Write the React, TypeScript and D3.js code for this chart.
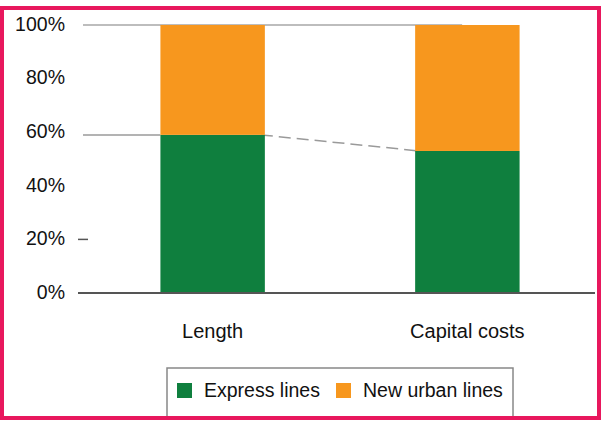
import React from "react";
import * as d3 from "d3";

const categories = ["Length", "Capital costs"];
const expressLines = [59, 53];
const newUrbanLines = [41, 47];
const yTicks = [0, 20, 40, 60, 80, 100];
const seriesNames = ["Express lines", "New urban lines"];
const colors = ["#0f7f3e", "#f7971e"];

export default function App() {
  const W = 607, H = 422;
  const y = d3.scaleLinear().domain([0, 100]).range([293, 25]);
  const x = d3.scaleBand<string>().domain(categories).range([84, 596]).paddingInner(0.59).paddingOuter(0.3);
  const bw = x.bandwidth();
  const font = "'Liberation Sans', Arial, sans-serif";

  const stacks = categories.map((c, i) => {
    const e = expressLines[i];
    const n = newUrbanLines[i];
    return { c, segs: [[0, e], [e, e + n]] };
  });

  const b1 = categories[0], b2 = categories[1];

  return (
    <svg width={W} height={H} style={{ position: "absolute", left: 0, top: 0, background: "#fff" }}>
      <line x1={83} x2={(x(b2) as number) + bw * 0.45} y1={y(100)} y2={y(100)} stroke="#bdbdbd" strokeWidth={2} />
      <line x1={83} x2={x(b1) as number} y1={y(expressLines[0])} y2={y(expressLines[0])} stroke="#9a9a9a" strokeWidth={1.5} />
      <line x1={(x(b1) as number) + bw - 4} x2={(x(b2) as number) + 4} y1={y(expressLines[0])} y2={y(expressLines[1])} stroke="#9a9a9a" strokeWidth={1.5} strokeDasharray="12 6" />
      <line x1={78} x2={88} y1={y(20)} y2={y(20)} stroke="#555" strokeWidth={1.5} />

      {stacks.map((s) =>
        s.segs.map((seg, j) => (
          <rect key={s.c + j} x={x(s.c)} width={bw} y={y(seg[1])} height={y(seg[0]) - y(seg[1])} fill={colors[j]} />
        ))
      )}

      <line x1={78} x2={595} y1={y(0)} y2={y(0)} stroke="#555" strokeWidth={2} />

      {yTicks.map((t) => (
        <text key={t} x={65} y={y(t)} dy="0.3em" textAnchor="end" fontSize={19.5} fontFamily={font} fill="#111">
          {t}%
        </text>
      ))}

      {categories.map((c) => (
        <text key={c} x={(x(c) as number) + bw / 2} y={338} textAnchor="middle" fontSize={20} fontFamily={font} fill="#111">
          {c}
        </text>
      ))}

      <rect x={167} y={368} width={346} height={60} fill="#fff" stroke="#888" strokeWidth={1.5} />
      {seriesNames.map((n, i) => {
        const lx = i === 0 ? 177 : 336;
        return (
          <g key={n}>
            <rect x={lx} y={383} width={15} height={15} fill={colors[i]} />
            <text x={lx + 27} y={397} fontSize={19.5} fontFamily={font} fill="#111">
              {n}
            </text>
          </g>
        );
      })}

      <rect x={2} y={8} width={597} height={410} fill="none" stroke="#e8175d" strokeWidth={4} />
      <rect x={0} y={420} width={W} height={2} fill="#fff" />
    </svg>
  );
}
